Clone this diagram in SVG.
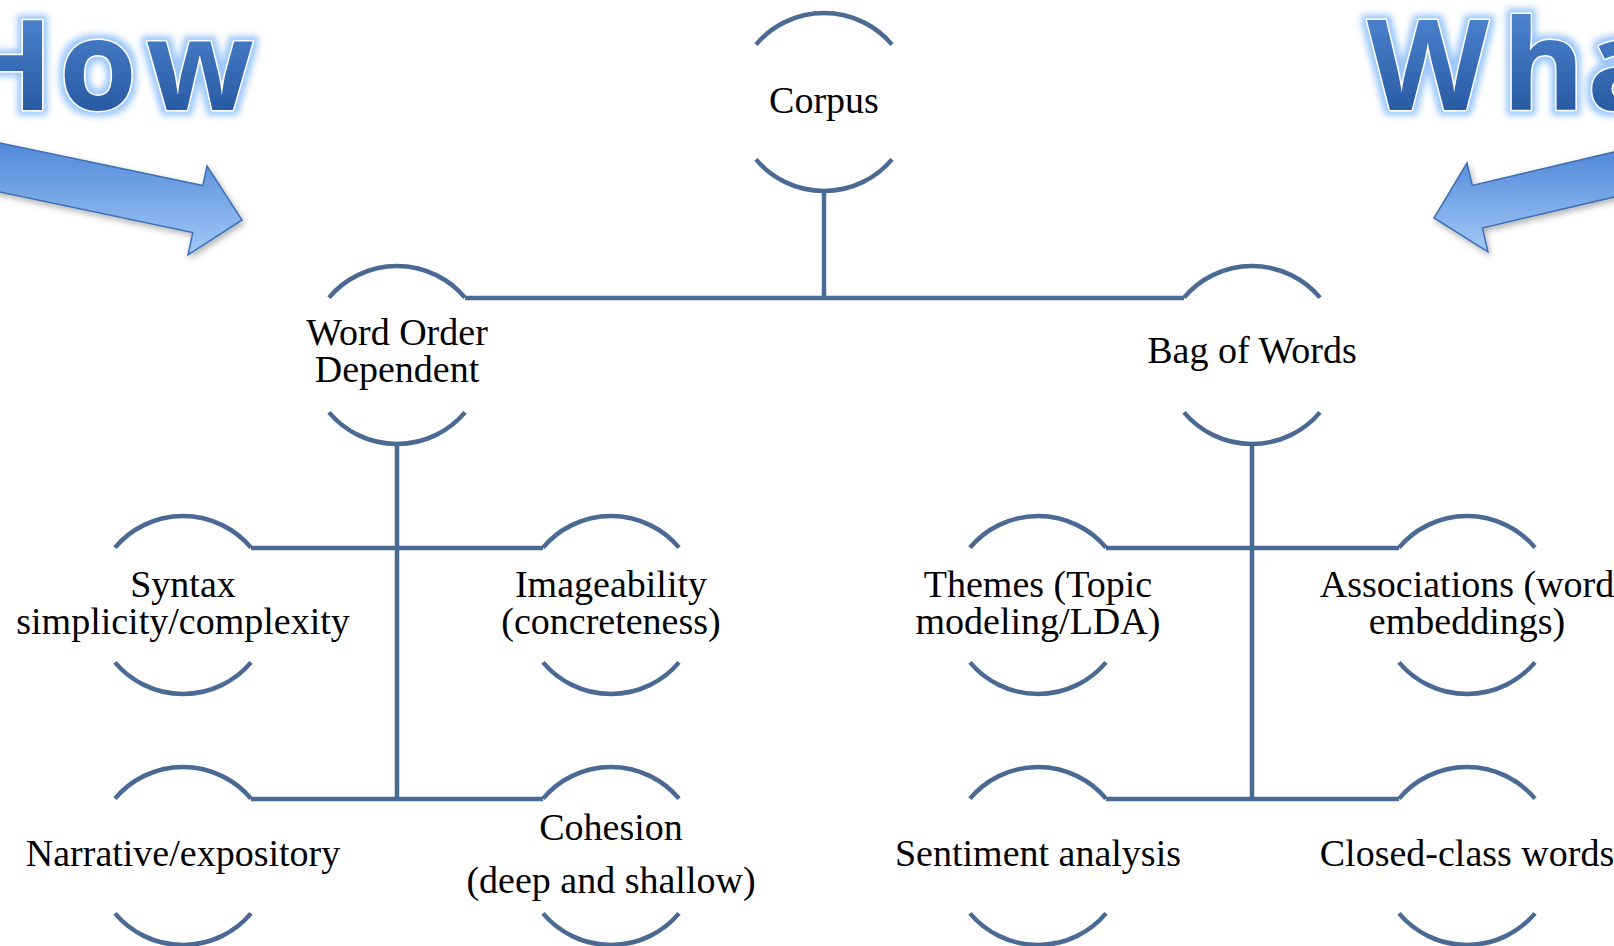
<svg xmlns="http://www.w3.org/2000/svg" width="1614" height="946" viewBox="0 0 1614 946">
<defs>
<style>
.arc{fill:none;stroke:#4a6a94;stroke-width:4.5;stroke-linecap:butt}
.con{fill:none;stroke:#4a6a94;stroke-width:4.5}
.lbl{font-family:"Liberation Serif","Times New Roman",serif;font-size:38px;fill:#000;text-anchor:middle}
.big{font-family:"Open Sans","Liberation Sans",sans-serif;font-weight:700;font-size:126px;fill:url(#tg);stroke:#ffffff;stroke-width:3;paint-order:stroke;stroke-linejoin:round;filter:url(#glow)}
.arrow{fill:url(#ag);stroke:#3e70b4;stroke-width:1.5;filter:url(#shadow)}
</style>
<linearGradient id="tg" x1="0" y1="0" x2="0" y2="1">
<stop offset="0" stop-color="#5a92e0"/>
<stop offset="1" stop-color="#1c4c92"/>
</linearGradient>
<linearGradient id="ag" x1="0" y1="0" x2="0" y2="1">
<stop offset="0" stop-color="#4f86d6"/>
<stop offset="1" stop-color="#a2c8f8"/>
</linearGradient>
<filter id="glow" x="-20%" y="-30%" width="140%" height="160%">
<feMorphology in="SourceAlpha" operator="dilate" radius="4" result="d"/>
<feGaussianBlur in="d" stdDeviation="3" result="b"/>
<feFlood flood-color="#9cc8fb"/>
<feComposite in2="b" operator="in" result="g"/>
<feMerge>
<feMergeNode in="g"/>
<feMergeNode in="SourceGraphic"/>
</feMerge>
</filter>
<filter id="shadow" x="-10%" y="-20%" width="130%" height="160%">
<feDropShadow dx="2" dy="3" stdDeviation="3" flood-color="#000" flood-opacity="0.3"/>
</filter>
</defs>
<rect width="1614" height="946" fill="#ffffff"/>

<g id="how">
<text class="big" x="-43 59 146" y="110">How</text>
</g>
<g id="what">
<text class="big" x="1367 1502 1587 1660" y="110">What</text>
</g>
<g id="arrow-left">
<path class="arrow" d="M -20 138.8 L 202.8 185.6 L 207 166 L 242 220 L 188 255 L 192.8 232.5 L -20 187.8 Z"/>
</g>
<g id="arrow-right">
<path class="arrow" d="M 1634 147.3 L 1472.3 185.4 L 1467 163 L 1434 218 L 1488 252 L 1482.4 228 L 1634 192.3 Z"/>
</g>

<g id="connectors">
<path class="con" d="M 824 191 V 298"/>
<path class="con" d="M 465 298 H 1184"/>
<path class="con" d="M 397 444 V 799"/>
<path class="con" d="M 251 548 H 543"/>
<path class="con" d="M 251 799 H 543"/>
<path class="con" d="M 1252 444 V 799"/>
<path class="con" d="M 1106 548 H 1399"/>
<path class="con" d="M 1106 799 H 1399"/>
</g>

<g id="corpus">
<path class="arc" d="M 756 44.6 A 89 89 0 0 1 892 44.6"/>
<path class="arc" d="M 756 159.4 A 89 89 0 0 0 892 159.4"/>
<text class="lbl" x="824" y="113">Corpus</text>
</g>
<g id="word-order">
<path class="arc" d="M 329 297.6 A 89 89 0 0 1 465 297.6"/>
<path class="arc" d="M 329 412.4 A 89 89 0 0 0 465 412.4"/>
<text class="lbl" x="397" y="345">Word Order</text>
<text class="lbl" x="397" y="382">Dependent</text>
</g>
<g id="bag-of-words">
<path class="arc" d="M 1184 297.6 A 89 89 0 0 1 1320 297.6"/>
<path class="arc" d="M 1184 412.4 A 89 89 0 0 0 1320 412.4"/>
<text class="lbl" x="1252" y="363">Bag of Words</text>
</g>
<g id="syntax">
<path class="arc" d="M 115 547.6 A 89 89 0 0 1 251 547.6"/>
<path class="arc" d="M 115 662.4 A 89 89 0 0 0 251 662.4"/>
<text class="lbl" x="183" y="597">Syntax</text>
<text class="lbl" x="183" y="634">simplicity/complexity</text>
</g>
<g id="imageability">
<path class="arc" d="M 543 547.6 A 89 89 0 0 1 679 547.6"/>
<path class="arc" d="M 543 662.4 A 89 89 0 0 0 679 662.4"/>
<text class="lbl" x="611" y="597">Imageability</text>
<text class="lbl" x="611" y="634">(concreteness)</text>
</g>
<g id="narrative">
<path class="arc" d="M 115 798.6 A 89 89 0 0 1 251 798.6"/>
<path class="arc" d="M 115 913.4 A 89 89 0 0 0 251 913.4"/>
<text class="lbl" x="183" y="866">Narrative/expository</text>
</g>
<g id="cohesion">
<path class="arc" d="M 543 798.6 A 89 89 0 0 1 679 798.6"/>
<path class="arc" d="M 543 913.4 A 89 89 0 0 0 679 913.4"/>
<text class="lbl" x="611" y="840">Cohesion</text>
<text class="lbl" x="611" y="893">(deep and shallow)</text>
</g>
<g id="themes">
<path class="arc" d="M 970 547.6 A 89 89 0 0 1 1106 547.6"/>
<path class="arc" d="M 970 662.4 A 89 89 0 0 0 1106 662.4"/>
<text class="lbl" x="1038" y="597">Themes (Topic</text>
<text class="lbl" x="1038" y="634">modeling/LDA)</text>
</g>
<g id="associations">
<path class="arc" d="M 1399 547.6 A 89 89 0 0 1 1535 547.6"/>
<path class="arc" d="M 1399 662.4 A 89 89 0 0 0 1535 662.4"/>
<text class="lbl" x="1467" y="597">Associations (word</text>
<text class="lbl" x="1467" y="634">embeddings)</text>
</g>
<g id="sentiment">
<path class="arc" d="M 970 798.6 A 89 89 0 0 1 1106 798.6"/>
<path class="arc" d="M 970 913.4 A 89 89 0 0 0 1106 913.4"/>
<text class="lbl" x="1038" y="866">Sentiment analysis</text>
</g>
<g id="closed-class">
<path class="arc" d="M 1399 798.6 A 89 89 0 0 1 1535 798.6"/>
<path class="arc" d="M 1399 913.4 A 89 89 0 0 0 1535 913.4"/>
<text class="lbl" x="1467" y="866">Closed-class words</text>
</g>
</svg>
